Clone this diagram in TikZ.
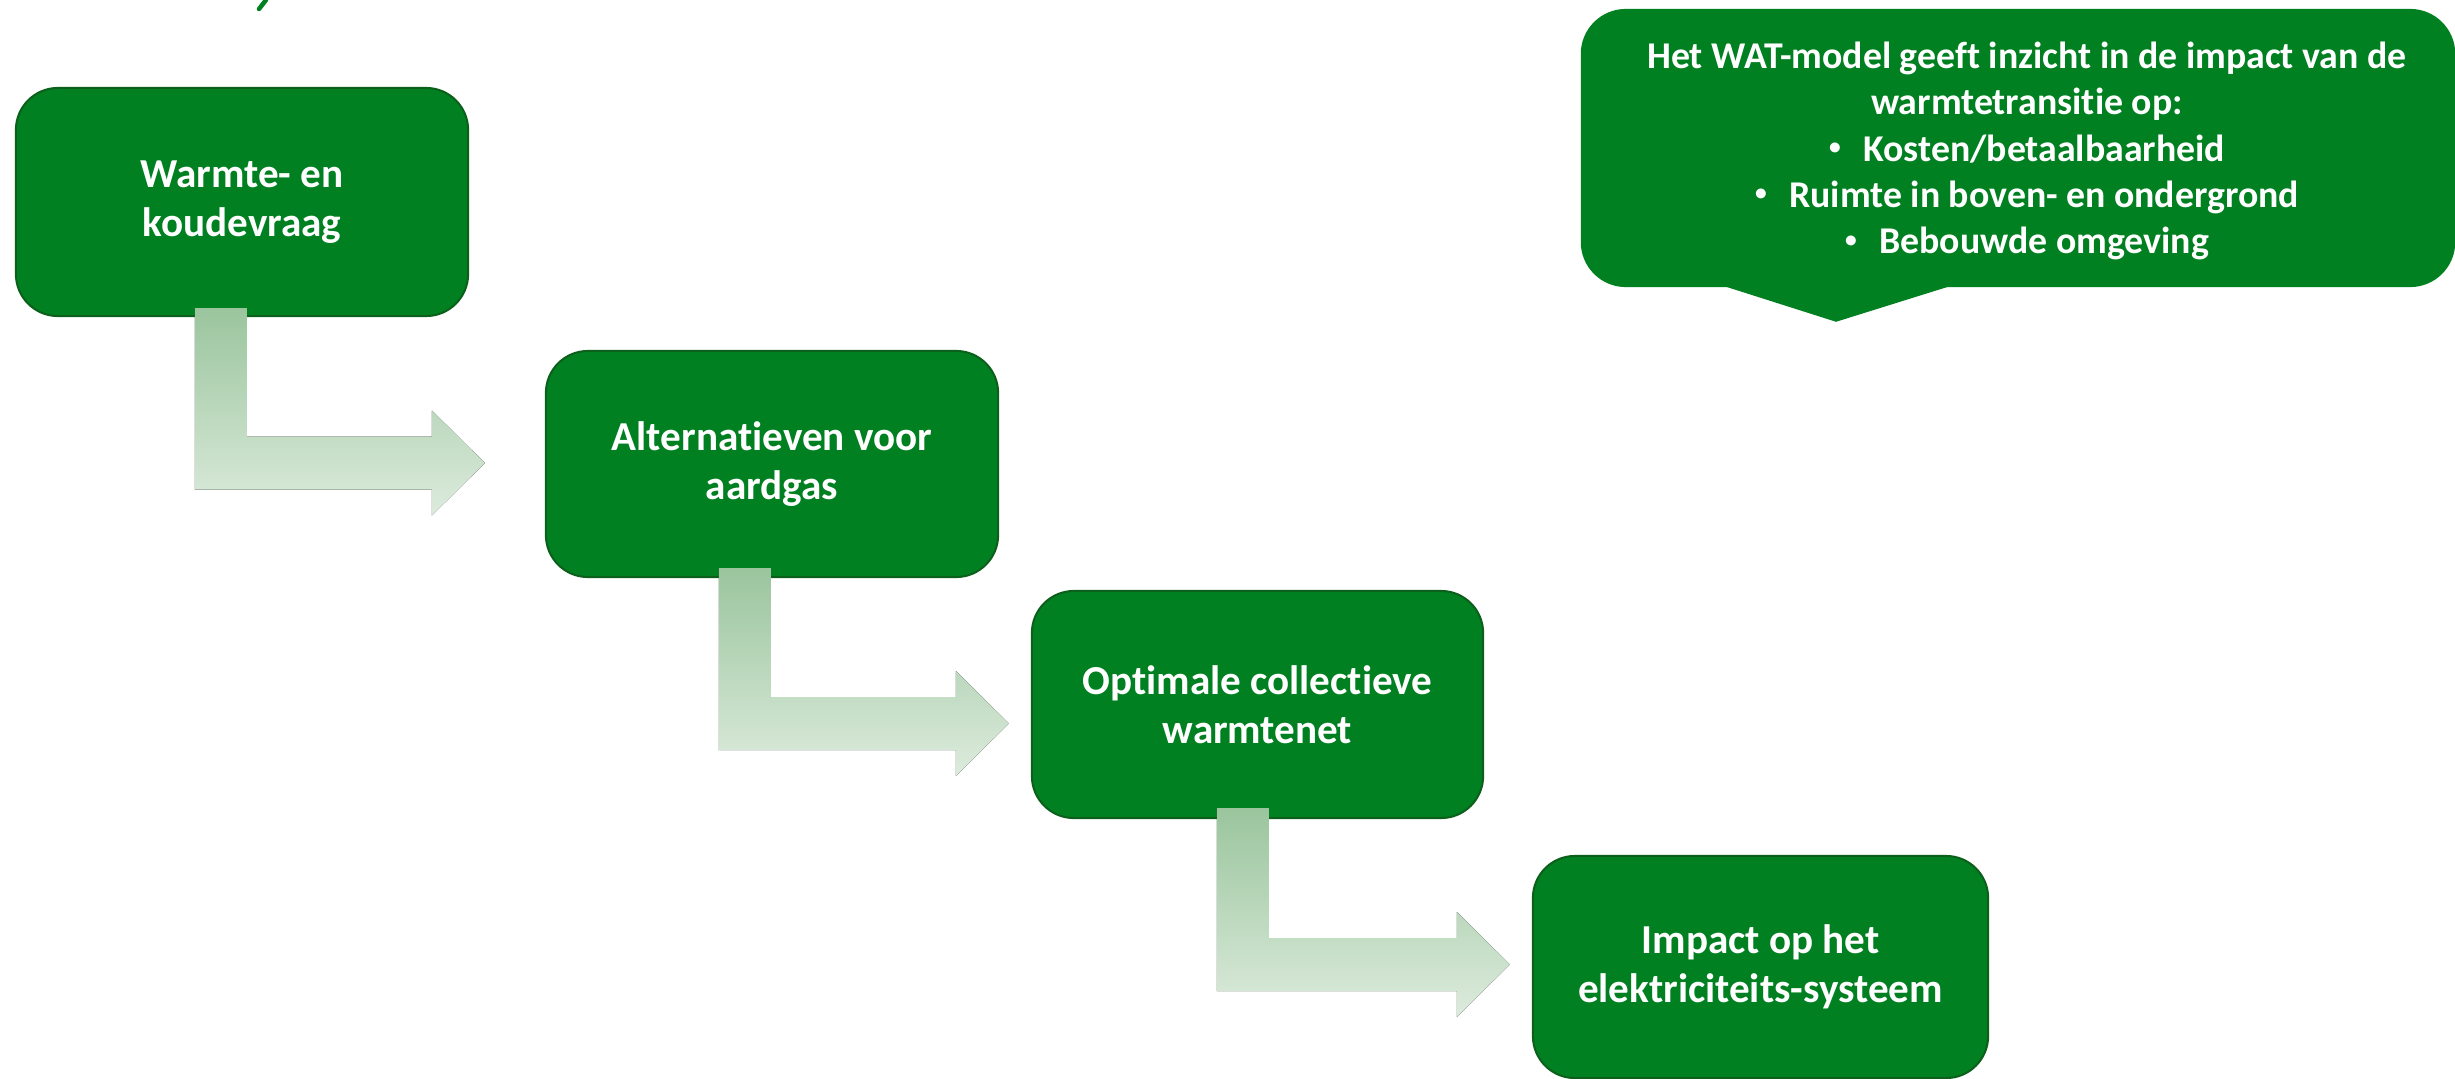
\documentclass[tikz,border=0pt]{standalone}
\usepackage{fontspec}
\usepackage{graphicx}
\setmainfont{Carlito}[Ligatures=NoCommon]
\usetikzlibrary{calc}
\definecolor{boxgreen}{RGB}{0,128,32}
\definecolor{boxedge}{RGB}{12,96,28}
\definecolor{arrtop}{RGB}{154,197,157}
\definecolor{arrbot}{RGB}{221,235,221}
\newcommand\smallbul{\raisebox{0.18em}{\scalebox{0.62}{•}}\hspace{0.6em}}
\tikzset{
  stepbox/.style={draw=boxedge, line width=0.02cm, fill=boxgreen, rounded corners=0.42cm,
    text=white, font=\fontsize{11.7}{13.8}\selectfont\bfseries, align=center, inner sep=0pt},
  calloutbox/.style={fill=boxgreen, rounded corners=0.45cm, inner sep=0pt},
  callouttext/.style={text=white, font=\fontsize{10.75}{13.2}\selectfont\bfseries, align=center, inner sep=0pt},
  arrowshade/.style={top color=arrtop, bottom color=arrbot, draw=none},
}
% #1 = top-left corner of the stem, #2 = arrow tip
\newcommand\bentarrow[2]{%
  \coordinate (sr) at ($(#1)+(52,0)$);
  \coordinate (bt) at ($(#2)+(-53,-26.5)$);
  \coordinate (bb) at ($(#2)+(-53,26.5)$);
  \fill[arrowshade] (#1) -- (sr) -- (sr |- bt) -- (bt) -- ++(0,-26) -- (#2)
    -- ($(bb)+(0,26)$) -- (bb) -- (#1 |- bb) -- cycle;
}
\begin{document}
\begin{tikzpicture}[x=0.01cm,y=-0.01cm]
\useasboundingbox (0,0) rectangle (2455,1079);
\fill[white] (0,0) rectangle (2455,1079);

% fragment of cut-off title at the top edge
\draw[boxgreen, line width=0.045cm, line cap=round] (266,0) -- (259,9);

% steps
\node[stepbox, minimum width=4.52cm, minimum height=2.28cm] (b1) at (242,202) {Warmte- en\\koudevraag};
\node[stepbox, minimum width=4.52cm, minimum height=2.26cm] (b2) at (772,464) {Alternatieven voor\\aardgas};
\node[stepbox, minimum width=4.51cm, minimum height=2.27cm] (b3) at (1257.5,704.5) {Optimale collectieve\\warmtenet};
\node[stepbox, minimum width=4.55cm, minimum height=2.22cm] (b4) at (1760.5,967) {Impact op het\\elektriciteits-systeem};

% bent arrows
\coordinate (s1) at ($(b1.south west)+(180,-9)$);
\coordinate (t1) at ($(b2.west)+(-60,-1)$);
\bentarrow{s1}{t1}
\coordinate (s2) at ($(b2.south west)+(174,-10)$);
\coordinate (t2) at ($(b3.west)+(-22,19)$);
\bentarrow{s2}{t2}
\coordinate (s3) at ($(b3.south west)+(186,-11)$);
\coordinate (t3) at ($(b4.west)+(-22,-2.5)$);
\bentarrow{s3}{t3}

% callout
\node[calloutbox, minimum width=8.74cm, minimum height=2.78cm] (c) at (2018,148) {};
\fill[boxgreen] ($(c.south west)+(146,-1)$) -- ($(c.south west)+(256,34)$) -- ($(c.south west)+(368,-1)$) -- cycle;
\node[callouttext] (ct) at ($(c.center)+(9,3)$)
  {Het WAT-model geeft inzicht in de impact van de\\
   warmtetransitie op:\\
   \smallbul Kosten/betaalbaarheid\\
   \smallbul Ruimte in boven- en ondergrond\\
   \smallbul Bebouwde omgeving};
\end{tikzpicture}
\end{document}
